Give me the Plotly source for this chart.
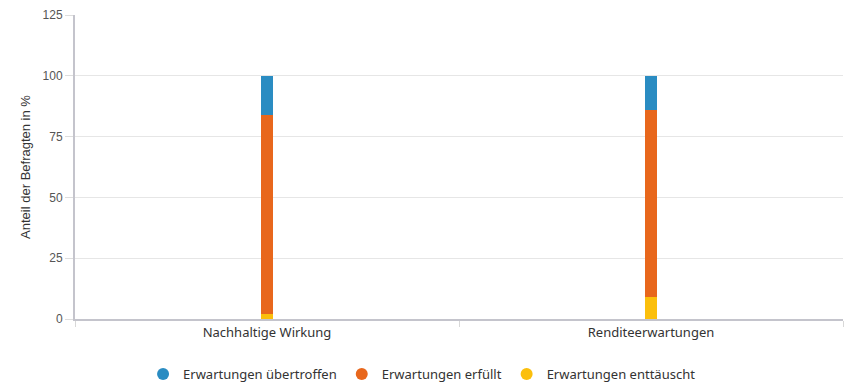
import plotly.graph_objects as go

categories = ["Nachhaltige Wirkung", "Renditeerwartungen"]
enttaeuscht = [2, 9]
erfuellt = [82, 77]
uebertroffen = [16, 14]

series = [
    ("Erwartungen enttäuscht", enttaeuscht, "#fbbf0c"),
    ("Erwartungen erfüllt", erfuellt, "#e8671c"),
    ("Erwartungen übertroffen", uebertroffen, "#2a8cc2"),
]
legend_order = ["Erwartungen übertroffen", "Erwartungen erfüllt", "Erwartungen enttäuscht"]

fig = go.Figure()
for name, vals, col in series:
    fig.add_trace(go.Bar(x=categories, y=vals, name=name, marker_color=col,
                         marker_line_width=0, width=0.031, showlegend=False))
colors = {n: c for n, v, c in series}
for i, name in enumerate(legend_order):
    fig.add_trace(go.Scatter(x=[None], y=[None], mode="markers", name=name,
                             marker=dict(symbol="circle", size=15, color=colors[name]),
                             legendrank=i + 1))

W, H = 845, 381
fig.update_layout(
    barmode="stack",
    width=W, height=H,
    margin=dict(l=67, r=10, t=7, b=70, autoexpand=False),
    plot_bgcolor="white", paper_bgcolor="white",
    font=dict(family="Noto Sans, Liberation Sans, sans-serif", color="#333333"),
    legend=dict(orientation="h", xref="container", x=0.49, xanchor="center",
                yref="container", y=15 / H, yanchor="middle",
                font=dict(size=13, color="#333333", family="Noto Sans"), itemsizing="constant",
                traceorder="normal", itemwidth=30),
    xaxis=dict(showline=True, linecolor="#c4c4cc", linewidth=2, automargin=False,
               ticks="outside", tickson="boundaries", tickcolor="#d8d8d8", ticklen=6,
               tickfont=dict(size=13, color="#333333", family="Noto Sans"), showgrid=False,
               range=[-0.5, 1.5]),
    yaxis=dict(range=[0, 125], tickvals=[0, 25, 50, 75, 100, 125], automargin=False,
               showline=True, linecolor="#c4c4cc", linewidth=2,
               ticks="outside", tickcolor="#dddddd", ticklen=8,
               gridcolor="#e6e6e6", gridwidth=1, zeroline=False,
               tickfont=dict(size=12, color="#555555", family="Liberation Sans, Arial"),
               title=dict(text="Anteil der Befragten in %", standoff=9,
                          font=dict(size=13, color="#333333", family="Liberation Sans, Arial"))),
)

fig.write_html("out.html")
